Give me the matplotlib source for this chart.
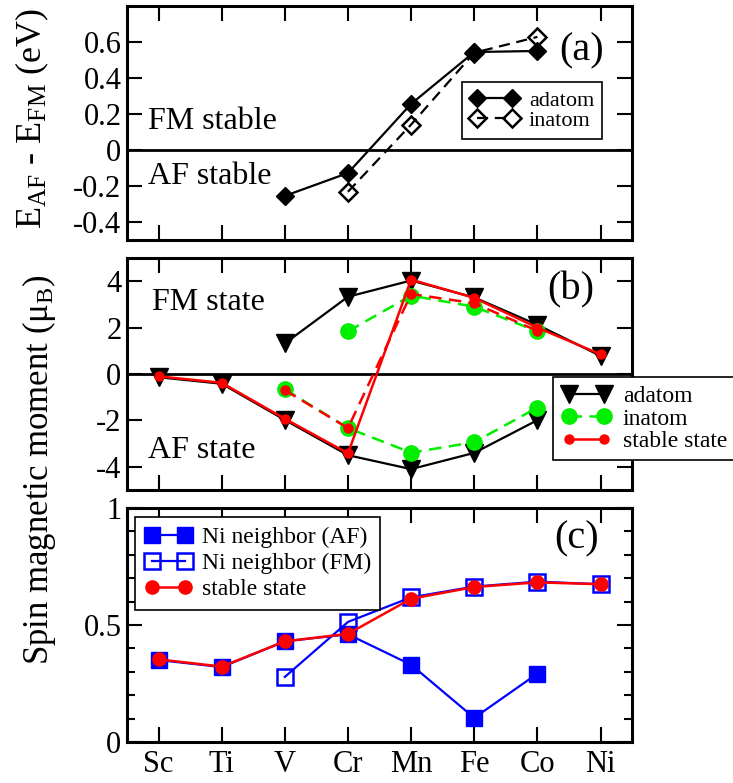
import matplotlib
matplotlib.use('Agg')
import matplotlib.pyplot as plt
import numpy as np

plt.rcParams['font.family'] = ['Liberation Serif', 'DejaVu Serif']
plt.rcParams['mathtext.fontset'] = 'custom'
plt.rcParams['mathtext.rm'] = 'Liberation Serif'
plt.rcParams['mathtext.it'] = 'Liberation Serif:italic'

elements = ['Sc', 'Ti', 'V', 'Cr', 'Mn', 'Fe', 'Co', 'Ni']
x = np.arange(len(elements))

# (a) energy difference E_AF - E_FM (eV)
ea_x = [2, 3, 4, 5, 6]
ea_adatom = [-0.255, -0.128, 0.256, 0.544, 0.55]
ei_x = [3, 4, 5, 6]
ei_inatom = [-0.232, 0.141, 0.54, 0.628]

# (b) spin moment of the adatom / inatom
b_ad_fm_x = [2, 3, 4, 5, 6, 7]
b_ad_fm = [1.32, 3.33, 4.03, 3.3, 2.12, 0.78]
b_ad_af_x = [0, 1, 2, 3, 4, 5, 6]
b_ad_af = [-0.14, -0.42, -1.98, -3.5, -4.1, -3.4, -1.99]
b_in_fm_x = [3, 4, 5, 6]
b_in_fm = [1.84, 3.38, 2.9, 1.84]
b_in_af_x = [2, 3, 4, 5, 6]
b_in_af = [-0.66, -2.33, -3.39, -2.94, -1.45]
b_st_x = [0, 1, 2, 3, 4, 5, 6, 7]
b_st = [-0.1, -0.38, -1.93, -3.42, 4.07, 3.28, 2.0, 0.85]
b_st_in_x = [2, 3, 4, 5, 6]
b_st_in = [-0.7, -2.33, 3.45, 3.05, 1.86]

# (c) spin moment of Ni neighbor
c_af_x = [0, 1, 2, 3, 4, 5, 6]
c_af = [0.35, 0.32, 0.43, 0.46, 0.33, 0.103, 0.292]
c_fm_x = [2, 3, 4, 5, 6, 7]
c_fm = [0.278, 0.513, 0.618, 0.664, 0.685, 0.674]
c_st = [0.353, 0.322, 0.43, 0.462, 0.612, 0.662, 0.682, 0.674]

a_ticks = [-0.4, -0.2, 0, 0.2, 0.4, 0.6]
a_labels = ['-0.4', '-0.2', '0', '0.2', '0.4', '0.6']
b_ticks = [-4, -2, 0, 2, 4]
b_labels = ['-4', '-2', '0', '2', '4']
c_ticks = [0, 0.5, 1]
c_labels = ['0', '0.5', '1']

fig = plt.figure(figsize=(7.33, 7.83), dpi=100)
L, W = 0.1733, 0.689
ax1 = fig.add_axes([L, 0.6935, W, 0.2989])
ax2 = fig.add_axes([L, 0.3742, W, 0.2963])
ax3 = fig.add_axes([L, 0.0524, W, 0.2989])

for ax in (ax1, ax2, ax3):
    ax.set_xlim(-0.5, 7.5)
    ax.set_xticks(x)
    ax.tick_params(which='both', direction='in', top=True, right=True, width=1.5)
    ax.tick_params(which='major', length=11, labelsize=22, pad=4)
    ax.tick_params(which='minor', length=6)
    for s in ax.spines.values():
        s.set_linewidth(2.2)

ax1.set_xticklabels([])
ax2.set_xticklabels([])
ax3.set_xticklabels(elements)
ax3.tick_params(axis='x', pad=6)

# panel (a)
ax1.axhline(0, color='black', lw=2)
ax1.plot(ea_x, ea_adatom, '-', color='black', lw=1.6, marker='D', ms=9.5,
         mfc='black', mec='black', label='adatom')
ax1.plot(ei_x, ei_inatom, '--', color='black', lw=1.6, dashes=(5, 3), marker='D', ms=9.5,
         mfc='none', mec='black', mew=1.8, label='inatom')
ax1.set_ylim(-0.5, 0.8)
ax1.set_yticks(a_ticks)
ax1.set_yticklabels(a_labels)
ax1.text(-0.16, 0.16, 'FM stable', fontsize=23, va='center', ha='left')
ax1.text(-0.16, -0.145, 'AF stable', fontsize=23, va='center', ha='left')
ax1.text(7.05, 0.55, '(a)', fontsize=29, va='center', ha='right')
leg = ax1.legend(loc='upper left', bbox_to_anchor=(0.663, 0.675), borderaxespad=0,
                 fontsize=16, numpoints=2, handlelength=2.2, handletextpad=0.45,
                 labelspacing=0.0, borderpad=0.36, fancybox=False, framealpha=1,
                 edgecolor='black')
leg.get_frame().set_linewidth(1.2)

# panel (b)
ax2.axhline(0, color='black', lw=2)
ax2.plot(b_ad_fm_x, b_ad_fm, '-', color='black', lw=1.6, marker='v', ms=13,
         label='adatom')
ax2.plot(b_ad_af_x, b_ad_af, '-', color='black', lw=1.6, marker='v', ms=13)
ax2.plot(b_in_fm_x, b_in_fm, '--', color='#00ee00', lw=1.8, dashes=(5, 3), marker='o',
         ms=11, label='inatom')
ax2.plot(b_in_af_x, b_in_af, '--', color='#00ee00', lw=1.8, dashes=(5, 3), marker='o',
         ms=11)
ax2.plot(b_st_in_x, b_st_in, '--', color='red', lw=1.8, dashes=(5, 3), marker='o', ms=6.5)
ax2.plot(b_st_x, b_st, '-', color='red', lw=1.8, marker='o', ms=6.5, label='stable state')
ax2.set_ylim(-5, 5)
ax2.set_yticks(b_ticks)
ax2.set_yticklabels(b_labels)
ax2.text(-0.1, 3.08, 'FM state', fontsize=23, va='center', ha='left')
ax2.text(-0.17, -3.3, 'AF state', fontsize=23, va='center', ha='left')
ax2.text(6.9, 3.63, '(b)', fontsize=29, va='center', ha='right')
leg = ax2.legend(loc='upper left', bbox_to_anchor=(0.844, 0.487), borderaxespad=0,
                 fontsize=17, numpoints=2, handlelength=2.1, handletextpad=0.5,
                 labelspacing=0.05, borderpad=0.35, fancybox=False, framealpha=1,
                 edgecolor='black')
leg.get_frame().set_linewidth(1.2)

# panel (c)
ax3.plot(c_af_x, c_af, '-', color='blue', lw=1.6, marker='s', ms=11, mfc='blue',
         mec='blue', label='Ni neighbor (AF)')
ax3.plot(c_fm_x, c_fm, '-', color='blue', lw=1.6, marker='s', ms=11, mfc='none',
         mec='blue', mew=1.8, label='Ni neighbor (FM)')
ax3.plot(x, c_st, '-', color='red', lw=1.8, marker='o', ms=9.5, label='stable state')
ax3.set_ylim(0, 1)
ax3.set_yticks(c_ticks)
ax3.set_yticklabels(c_labels)
ax3.set_yticks(np.arange(0.1, 1.0, 0.1), minor=True)
ax3.text(6.97, 0.867, '(c)', fontsize=29, va='center', ha='right')
leg = ax3.legend(loc='upper left', bbox_to_anchor=(0.016, 0.962), borderaxespad=0,
                 fontsize=17, numpoints=2, handlelength=2.0, handletextpad=0.42,
                 labelspacing=0.2, borderpad=0.4, fancybox=False, framealpha=1,
                 edgecolor='black')
leg.get_frame().set_linewidth(1.2)

fig.text(0.0437, 0.849, r'E$_{\mathrm{AF}}$ - E$_{\mathrm{FM}}$ (eV)', rotation=90,
         fontsize=26, ha='center', va='center')
fig.text(0.053, 0.40, r'Spin magnetic moment (μ$_{\mathrm{B}}$)', rotation=90,
         fontsize=25, ha='center', va='center')

plt.savefig('out.png', dpi=100)
